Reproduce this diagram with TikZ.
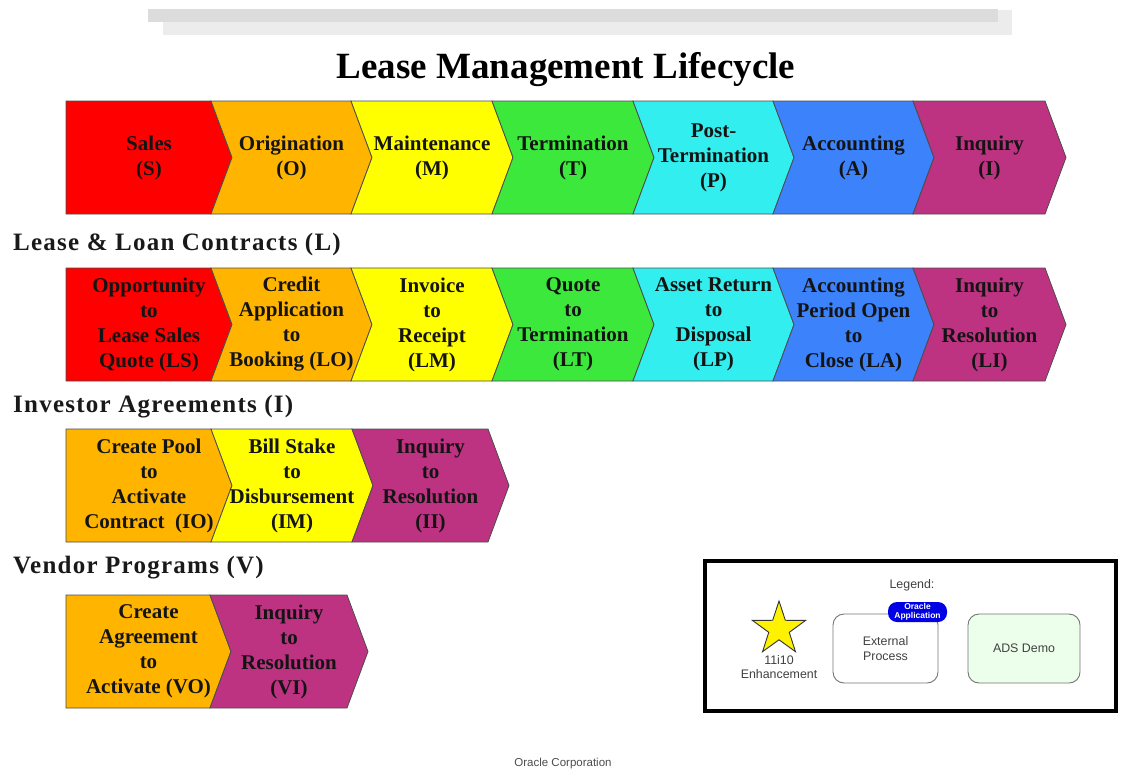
\documentclass[tikz,border=0pt]{standalone}
\usepackage{fontspec}
\setmainfont{Liberation Serif}
\newfontfamily\headfont[LetterSpace=5]{Liberation Serif}
\newfontfamily\legendfont{Liberation Sans}
\usetikzlibrary{shapes, shapes.geometric, arrows.meta, calc, positioning}
\definecolor{salesred}{RGB}{255,0,0}
\definecolor{origorange}{RGB}{255,180,0}
\definecolor{maintyellow}{RGB}{255,255,0}
\definecolor{termgreen}{RGB}{60,232,60}
\definecolor{postcyan}{RGB}{50,238,238}
\definecolor{acctblue}{RGB}{60,130,250}
\definecolor{inqmagenta}{RGB}{190,50,130}
\definecolor{bardark}{RGB}{220,220,220}
\definecolor{barlight}{RGB}{236,236,236}
\colorlet{legendgray}{black!75}
\tikzset{
  stageline/.style={draw=black!70, line width=0.8},
  stagetext/.style={align=center, inner sep=0, text=black!92, font=\fontsize{21}{25}\selectfont\bfseries},
  heading/.style={anchor=base west, inner sep=0, text=black!90, font=\headfont\bfseries\fontsize{25}{30}\selectfont},
  legendtext/.style={align=center, inner sep=0, text=legendgray, font=\legendfont\fontsize{12.4}{14.5}\selectfont},
  legendbox/.style={rectangle, rounded corners=11, draw=black!55, line width=0.9, minimum width=105, minimum height=69}
}
% stage chevron: name, back x, front x, top y, notch, colour, text
\def\tipw{21}
\def\rowh{113}
\newcommand{\stage}[7]{%
  \filldraw[stageline, fill=#6] (#2,#4) -- (#3,#4) -- (#3+\tipw,{#4+\rowh/2}) -- (#3,#4+\rowh)
    -- (#2,#4+\rowh) -- (#2+#5,{#4+\rowh/2}) -- cycle;
  \node[stagetext] (#1) at ({(#2+#3)/2+\tipw/2},{#4+\rowh/2}) {#7};}

\begin{document}
\begin{tikzpicture}[x=1pt, y=-1pt]
  \useasboundingbox (0,0) rectangle (1123,771);

  % Banner and title
  \fill[barlight] (163,10) rectangle (1012,35);
  \fill[bardark] (148,9) rectangle (998,22);
  \node[anchor=base, inner sep=0, font=\fontsize{37}{40}\selectfont\bfseries] (title) at (566,78) {Lease Management Lifecycle};

  % Lifecycle stages
  \stage{sales}{66}{211}{101}{0}{salesred}{Sales\\(S)}
  \stage{orig}{211}{351}{101}{\tipw}{origorange}{Origination\\(O)}
  \stage{maint}{351}{492}{101}{\tipw}{maintyellow}{Maintenance\\(M)}
  \stage{term}{492}{633}{101}{\tipw}{termgreen}{Termination\\(T)}
  \stage{post}{633}{773}{101}{\tipw}{postcyan}{Post-\\Termination\\(P)}
  \stage{acct}{773}{913}{101}{\tipw}{acctblue}{Accounting\\(A)}
  \stage{inq}{913}{1045}{101}{\tipw}{inqmagenta}{Inquiry\\(I)}

  % Lease & Loan Contracts
  \node[heading] (lhead) at (13,250) {Lease \& Loan Contracts (L)};
  \stage{ls}{66}{211}{268}{0}{salesred}{Opportunity\\to\\Lease Sales\\Quote (LS)}
  \stage{lo}{211}{351}{268}{\tipw}{origorange}{Credit\\Application\\to\\Booking (LO)}
  \stage{lm}{351}{492}{268}{\tipw}{maintyellow}{Invoice\\to\\Receipt\\(LM)}
  \stage{lt}{492}{633}{268}{\tipw}{termgreen}{Quote\\to\\Termination\\(LT)}
  \stage{lp}{633}{773}{268}{\tipw}{postcyan}{Asset Return\\to\\Disposal\\(LP)}
  \stage{la}{773}{913}{268}{\tipw}{acctblue}{Accounting\\Period Open\\to\\Close (LA)}
  \stage{li}{913}{1045}{268}{\tipw}{inqmagenta}{Inquiry\\to\\Resolution\\(LI)}

  % Investor Agreements
  \node[heading] (ihead) at (13,412) {Investor Agreements (I)};
  \stage{io}{66}{211}{429}{0}{origorange}{Create Pool\\to\\Activate\\Contract~~(IO)}
  \stage{im}{211}{352}{429}{\tipw}{maintyellow}{Bill Stake\\to\\Disbursement\\(IM)}
  \stage{ii}{352}{488}{429}{\tipw}{inqmagenta}{Inquiry\\to\\Resolution\\(II)}

  % Vendor Programs
  \node[heading] (vhead) at (13,573) {Vendor Programs (V)};
  \stage{vo}{66}{210}{595}{0}{origorange}{Create\\Agreement\\to\\Activate (VO)}
  \stage{vi}{210}{347}{595}{\tipw}{inqmagenta}{Inquiry\\to\\Resolution\\(VI)}

  % Legend
  \node[draw, line width=3.5, minimum width=411, minimum height=150, inner sep=0] (legend) at (910.5,636) {};
  \node[legendtext] (legtitle) at (912,585) {Legend:};
  \node[star, star points=5, star point ratio=2.6, minimum size=56, inner sep=0, draw=black!80, line width=0.9, fill=yellow] (star) at (779,629) {};
  \node[legendtext] (starlbl) at (779,667) {11i10\\Enhancement};
  \node[legendbox, legendtext] (ext) at (885.5,648.5) {External\\Process};
  \node[rectangle, rounded corners=9, fill=blue!90!black, text=white, minimum width=59, minimum height=20, inner sep=0, align=center,
        font=\legendfont\bfseries\fontsize{8.5}{8.5}\selectfont] (oracle) at (917.5,612) {Oracle\\Application};
  \node[legendbox, legendtext, fill=green!8, minimum width=112] (ads) at (1024,648.5) {ADS Demo};

  % Footer
  \node[inner sep=0, text=black!70, font=\legendfont\fontsize{11.5}{13}\selectfont] (footer) at (563,764) {Oracle Corporation};
\end{tikzpicture}
\end{document}
